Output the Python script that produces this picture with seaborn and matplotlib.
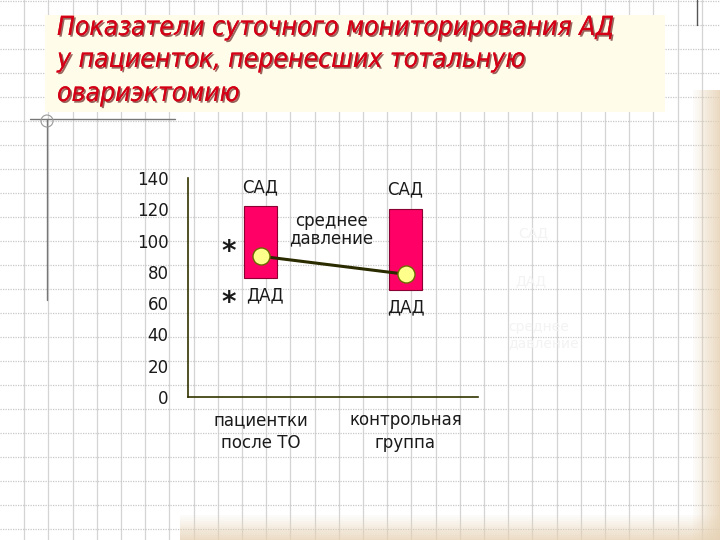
"""
Показатели суточного мониторирования АД - график с плавающими столбцами
"""
import numpy as np
import pandas as pd
import matplotlib
matplotlib.use('Agg')
import matplotlib.pyplot as plt
import matplotlib.patheffects as pe
from matplotlib.patches import Rectangle, Circle
import seaborn as sns

# данные
groups = ['пациентки\nпосле ТО', 'контрольная\nгруппа']
sad = [122, 120.5]      # систолическое
dad = [76, 68.5]        # диастолическое
mean_bp = [90, 78.5]    # среднее давление
yticks = [0, 20, 40, 60, 80, 100, 120, 140]

title_lines = ['Показатели суточного мониторирования АД',
               'у пациенток, перенесших тотальную',
               'овариэктомию']

sns.set_style('white')
plt.rcParams['font.family'] = ['DejaVu Sans']

W, H = 720, 540
fig = plt.figure(figsize=(7.2, 5.4), dpi=100)

# фон слайда: тетрадная сетка
bg = fig.add_axes([0, 0, 1, 1])
bg.set_xlim(0, W)
bg.set_ylim(H, 0)
bg.axis('off')
for gx in np.arange(24.2, W, 24.2):
    bg.plot([gx, gx], [0, H], color='#d4d4d4', lw=0.9, zorder=0)
for gy in np.arange(1, H, 24):
    bg.plot([0, W], [gy, gy], color='#c8c8c8', lw=0.9, ls=(0, (1, 1)), zorder=0)
# бежевые полосы справа и снизу
for i in range(14):
    a = 0.07 + i * 0.06
    bg.add_patch(Rectangle((693 + i * 2, 90), 2, H, color='#e6d2b4', alpha=min(a, 1), lw=0, zorder=1))
    bg.add_patch(Rectangle((180, 515 + i * 2), W, 2, color='#e6d2b4', alpha=min(a, 1), lw=0, zorder=1))
# кремовая подложка заголовка
bg.add_patch(Rectangle((45, 15), 620, 97, color='#fffdea', lw=0, zorder=1))
bg.plot([30, 175], [119, 119], color='#777777', lw=1, zorder=2)
bg.plot([47, 47], [119, 300], color='#777777', lw=1, zorder=2)
bg.add_patch(Circle((47, 121), 6, fill=False, ec='#999999', lw=0.8, zorder=2))
bg.plot([697, 697], [0, 25], color='#555555', lw=1, zorder=2)

shadow = [pe.withSimplePatchShadow(offset=(1.2, -1.2), shadow_rgbFace='#550000', alpha=0.6),
          pe.Normal()]
for line, base in zip(title_lines, [35, 67, 101]):
    bg.text(57, base, line, fontsize=19, style='italic', color='#d40016',
            fontstretch='condensed', va='baseline', ha='left', zorder=3,
            path_effects=shadow)

# бледная легенда справа
for txt, xx, yy in [('САД', 518, 233), ('ДАД', 515, 281), ('среднее\nдавление', 508, 335)]:
    bg.text(xx, yy, txt, fontsize=10, color='#f3f3f3', va='center', ha='left', zorder=3)

# основной график
ax = fig.add_axes([188 / W, 1 - 397 / H, 290 / W, 219 / H])
ax.patch.set_alpha(0)
df = pd.DataFrame({'group': groups, 'sad': sad, 'dad': dad, 'mean': mean_bp})
x = np.arange(len(groups))

ax.bar(x, df['sad'] - df['dad'], bottom=df['dad'], width=0.23,
       color='#ff0066', edgecolor='#8a0030', linewidth=0.8, zorder=2)
sns.lineplot(x=x, y=df['mean'], ax=ax, color='#2b2b00', lw=2.2, zorder=3)
sns.scatterplot(x=x, y=df['mean'], ax=ax, s=150, color='#ffff8c',
                edgecolor='#6b6b00', linewidth=1, zorder=4)

ax.set_xlim(-0.5, 1.5)
ax.set_ylim(0, 140)
ax.set_ylabel('')
ax.set_xlabel('')
ax.set_yticks(yticks)
ax.set_xticks(x)
ax.set_xticklabels(groups, fontsize=12, color='#1a1a1a', linespacing=1.35)
ax.set_xticks([0.5], minor=True)
ax.tick_params(axis='x', which='major', length=0, pad=10)
ax.tick_params(axis='x', which='minor', length=5, width=1, color='#333300', direction='out')
ax.tick_params(axis='y', length=6, width=1, color='#333300', direction='out',
               labelsize=12, labelcolor='#1a1a1a', pad=8)
sns.despine(ax=ax)
for s in ['left', 'bottom']:
    ax.spines[s].set_color('#333300')
    ax.spines[s].set_linewidth(1.2)

lab = dict(fontsize=12, color='#1a1a1a', ha='center', va='center')
ax.text(x[0], sad[0] + 12, 'САД', **lab)
ax.text(x[1], sad[1] + 12, 'САД', **lab)
ax.text(x[0] + 0.03, dad[0] - 11, 'ДАД', **lab)
ax.text(x[1], dad[1] - 11, 'ДАД', **lab)
ax.text(0.49, 107, 'среднее\nдавление', fontsize=12, color='#1a1a1a', ha='center', va='center', linespacing=1.0)
ax.text(-0.22, 93, '*', fontsize=20, fontweight='bold', color='#1a1a1a', ha='center', va='center')
ax.text(-0.22, 60, '*', fontsize=20, fontweight='bold', color='#1a1a1a', ha='center', va='center')

fig.savefig('out.png', dpi=100)
